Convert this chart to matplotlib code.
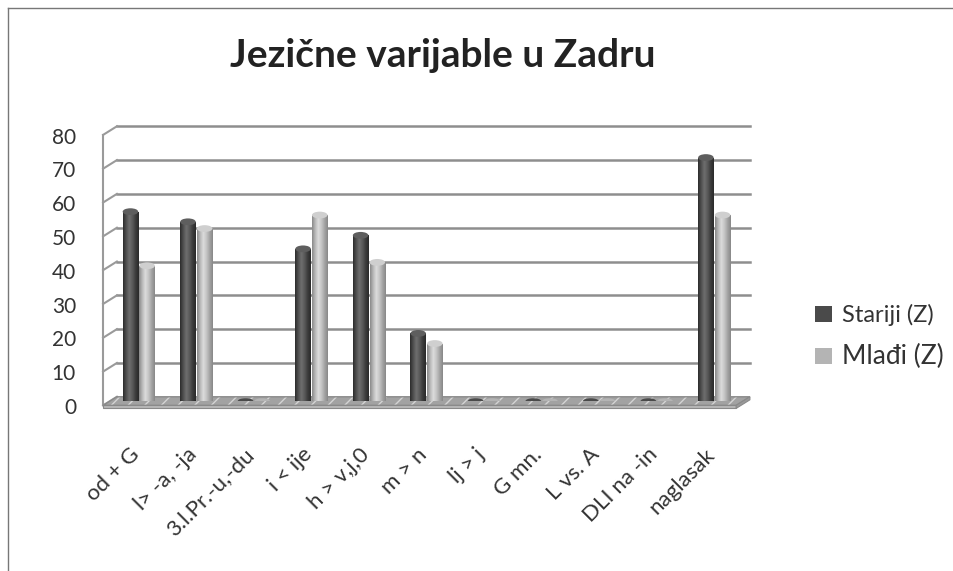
import matplotlib
matplotlib.use("Agg")
import matplotlib.pyplot as plt
import numpy as np
from matplotlib.patches import Ellipse, Polygon
from matplotlib.colors import LinearSegmentedColormap
from matplotlib.lines import Line2D

plt.rcParams['font.family'] = ['Lato', 'DejaVu Sans']

categories = ['od + G', 'l> -a, -ja', '3.l.Pr.-u,-du', 'i < ije', 'h > v,j,0',
              'm > n', 'lj > j', 'G mn.', 'L vs. A', 'DLI na -in', 'naglasak']
stariji = [56, 53, 0, 45, 49, 20, 0, 0, 0, 0, 72]
mladi = [40, 51, 0, 55, 41, 17, 0, 0, 0, 0, 55]
series_names = ['Stariji (Z)', 'Mlađi (Z)']
yticks = list(range(0, 81, 10))

W, H = 954, 571
fig = plt.figure(figsize=(W / 100, H / 100), dpi=100)
ax = fig.add_axes([110 / W, (H - 401) / H, 633 / W, (401 - 130.5) / H])
ax.set_xlim(-0.5, 10.5)
ax.set_ylim(0, 80)
ax.set_axis_off()

x = np.arange(len(categories))
bw = 0.27
off = 0.145

dark_cmap = LinearSegmentedColormap.from_list(
    'd', ['#2c2c2c', '#505050', '#6e6e6e', '#5a5a5a', '#3c3c3c', '#2a2a2a'])
light_cmap = LinearSegmentedColormap.from_list(
    'l', ['#8a8a8a', '#b8b8b8', '#dcdcdc', '#c4c4c4', '#a4a4a4', '#888888'])

# back wall grid + left wall
dz = 1.25
for v in yticks[1:]:
    ax.plot([-0.38, 10.62], [v + dz, v + dz], color='#8e8e8e', lw=1.8,
            clip_on=False, zorder=1)
for v in yticks:
    ax.plot([-0.62, -0.38], [v - 1.3, v + dz], color='#9a9a9a', lw=1.5,
            clip_on=False, zorder=1)
ax.plot([-0.62, -0.62], [-1.3, 78.7], color='#9a9a9a', lw=1.5,
        clip_on=False, zorder=1)

# floor
floor_pts = [(-0.62, -1.3), (10.38, -1.3), (10.62, dz), (-0.38, dz)]
ax.add_patch(Polygon(floor_pts, closed=True, facecolor='#a2a2a2',
                     edgecolor='#d4d4d4', hatch='//', lw=0, clip_on=False, zorder=1.5))
ax.add_patch(Polygon(floor_pts, closed=True, fill=False, edgecolor='#8a8a8a', lw=1,
                     clip_on=False, zorder=1.6))
ax.add_patch(Polygon([(-0.62, -1.3), (10.38, -1.3), (10.38, -2.2), (-0.62, -2.2)],
                     closed=True, facecolor='#b8b8b8', edgecolor='#8a8a8a', lw=0.8,
                     clip_on=False, zorder=1.6))
ax.add_patch(Polygon([(10.38, -1.3), (10.62, dz), (10.62, dz - 0.9), (10.38, -2.2)],
                     closed=True, facecolor='#9a9a9a', edgecolor='#8a8a8a', lw=0.8,
                     clip_on=False, zorder=1.6))

grad = np.linspace(0, 1, 64).reshape(1, -1)
handles = []
for vals, shift, cmap, base, cap in [(stariji, -off, dark_cmap, '#4a4a4a', '#5e5e5e'),
                                      (mladi, off, light_cmap, '#b4b4b4', '#cfcfcf')]:
    bars = ax.bar(x + shift, vals, width=bw, color=base, zorder=3)
    handles.append(bars)
    for b, v in zip(bars.patches, vals):
        cx = b.get_x() + b.get_width() / 2
        if v > 0:
            im = ax.imshow(grad, extent=[b.get_x(), b.get_x() + b.get_width(), 0, v],
                           aspect='auto', cmap=cmap, zorder=3.1)
            im.set_clip_path(b)
            ax.add_patch(Ellipse((cx, v), bw, 2.0, facecolor=cap,
                                 edgecolor='none', zorder=3.2))
        else:
            ax.add_patch(Ellipse((cx, v), bw, 1.6, facecolor=base,
                                 edgecolor='none', zorder=3.2))
ax.set_xlim(-0.5, 10.5)
ax.set_ylim(0, 80)

# y tick labels (front plane)
for v in yticks:
    ax.text(-0.0537, v - 2.1, str(v), transform=ax.get_yaxis_transform(),
            ha='right', va='center', fontsize=15, color='#333333')

# x tick labels
for xi, lab in zip(x, categories):
    ax.text(xi - 0.17, -12.8, lab, rotation=45, rotation_mode='anchor',
            ha='right', va='top', fontsize=16, color='#333333')

fig.text(443 / W, (H - 67) / H, 'Jezične varijable u Zadru', ha='center',
         va='baseline', fontsize=28, fontweight='bold', color='#222222')

leg = fig.legend(handles, series_names, loc='upper left',
                 bbox_to_anchor=(794 / W, (H - 283) / H), frameon=False,
                 handlelength=0.7, handleheight=0.7, handletextpad=0.45,
                 labelspacing=0.75, fontsize=17)
leg.get_texts()[1].set_fontsize(19)
for t in leg.get_texts():
    t.set_color('#333333')

fig.add_artist(Line2D([8 / W, 8 / W], [0, (H - 8) / H], color='#777777', lw=1))
fig.add_artist(Line2D([8 / W, 1], [(H - 8) / H, (H - 8) / H], color='#777777', lw=1))

fig.savefig('out.png', dpi=100, facecolor='white')
